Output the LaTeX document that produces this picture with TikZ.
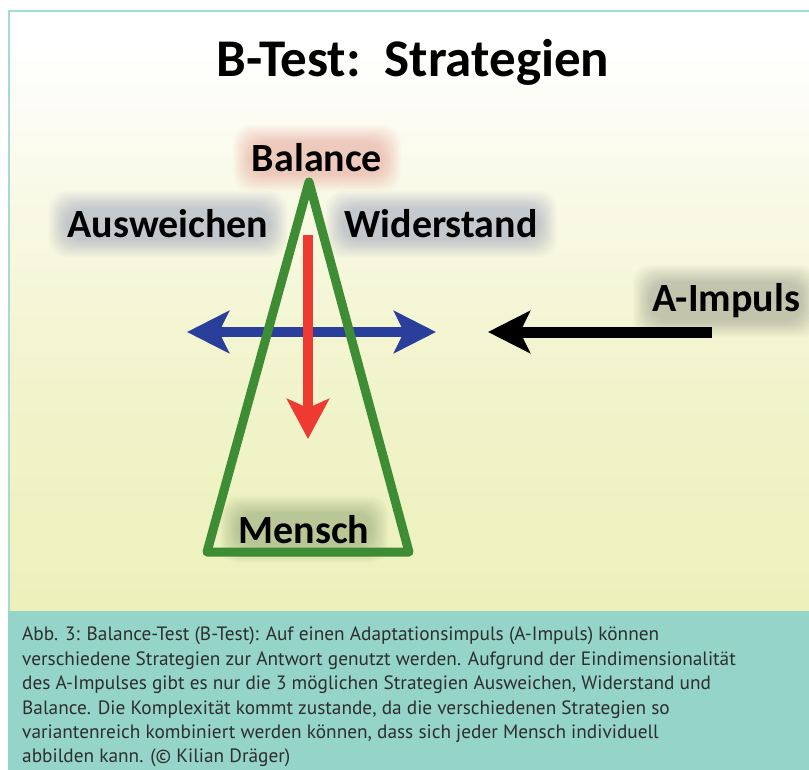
\documentclass[tikz,border=0pt]{standalone}
\usepackage{fontspec}
\setmainfont{Carlito}
\newfontfamily\captionfont{PT Sans}
\usetikzlibrary{arrows.meta, calc}

\definecolor{bordercol}{HTML}{A6DBD2}
\definecolor{capfill}{HTML}{95D4C8}
\definecolor{bgbottom}{HTML}{ECF1BB}
\definecolor{bgmid}{HTML}{F1F4CC}
\definecolor{bglight}{HTML}{FAFAEB}
\definecolor{trigreen}{HTML}{3E8C34}
\definecolor{arrred}{HTML}{EE3A30}
\definecolor{arrblue}{HTML}{2A3E9C}
\definecolor{captext}{HTML}{2E2E2E}

\pgfdeclareverticalshading{slideshade}{100bp}{color(0bp)=(bgbottom); color(25bp)=(bgbottom); color(45bp)=(bgmid); color(62bp)=(bglight); color(72bp)=(white); color(100bp)=(white)}

\pgfdeclarelayer{slidebg}
\pgfdeclarelayer{glowlayer}
\pgfsetlayers{slidebg,glowlayer,main}

% soft halo behind a label
\newcommand{\textglow}[2]{%
  \begin{pgfonlayer}{glowlayer}
    \foreach \g in {0,...,12}
      \fill[#2, opacity=0.02, rounded corners=18pt]
        ($(#1.south west)+(-\g*1.4,\g*1.4)$) rectangle ($(#1.north east)+(\g*1.4,-\g*1.4)$);
  \end{pgfonlayer}}

\begin{document}
\begin{tikzpicture}[
    x=1pt, y=-1pt,
    headline/.style={font=\fontsize{53}{53}\selectfont\bfseries, anchor=base, inner sep=0pt},
    strat/.style={font=\fontsize{40}{40}\selectfont\bfseries, anchor=base, inner sep=2pt},
    tri/.style={draw=trigreen, line width=9pt, line join=round},
    redarrow/.style={draw=arrred, line width=10pt, -{Stealth[length=40pt, width=42pt, inset=9pt]}},
    bluearrow/.style={draw=arrblue, line width=10pt, {Stealth[length=42pt, width=42pt, inset=10pt]}-{Stealth[length=42pt, width=42pt, inset=10pt]}},
    blackarrow/.style={draw=black, line width=11pt, -{Stealth[length=42pt, width=42pt, inset=10pt]}},
    capt/.style={font=\captionfont\fontsize{19.3}{24.4}\selectfont, text=captext, align=left, anchor=north west, inner sep=0pt}
]
\useasboundingbox (0,0) rectangle (809,770);

% background and caption panel
\begin{pgfonlayer}{slidebg}
  \fill[white] (0,0) rectangle (809,770);
  \shade[shading=slideshade] (9,11) rectangle (809,611);
  \fill[capfill] (8,611) rectangle (809,770);
  \draw[bordercol, line width=2pt] (9,611) -- (9,11) -- (809,11);
\end{pgfonlayer}

% title
\node[headline] (title) at (413,77) {B-Test:~~Strategien};

% strategy labels
\node[strat] (balance) at (317,172) {Balance};
\node[strat] (ausweichen) at (168,238) {Ausweichen};
\node[strat] (widerstand) at (441,238) {Widerstand};
\node[strat] (aimpuls) at (726,312) {A-Impuls};
\node[strat] (mensch) at (304,543) {Mensch};

\textglow{balance}{arrred}
\textglow{ausweichen}{arrblue}
\textglow{widerstand}{arrblue}
\textglow{aimpuls}{black!80}
\textglow{mensch}{trigreen!50!black}

% arrow and triangle end points
\coordinate (bleft) at (187,332);
\coordinate (bright) at (436,332);
\coordinate (apex) at (309,182);
\coordinate (baseL) at (207,552);
\coordinate (baseR) at (409,552);
\coordinate (redtop) at (308,235);
\coordinate (redtip) at (308,439);
\coordinate (impulstail) at (712,332);
\coordinate (impulstip) at (488,332);

\draw[bluearrow] (bleft) -- (bright);
\draw[tri] (apex) -- (baseR) -- (baseL) -- cycle;
\draw[redarrow] (redtop) -- (redtip);
\draw[blackarrow] (impulstail) -- (impulstip);

% caption
\node[capt] (caption) at (22,627) {Abb. 3: Balance-Test (B-Test): Auf einen Adaptationsimpuls (A-Impuls) können\\
verschiedene Strategien zur Antwort genutzt werden. Aufgrund der Eindimensionalität\\
des A-Impulses gibt es nur die 3 möglichen Strategien Ausweichen, Widerstand und\\
Balance. Die Komplexität kommt zustande, da die verschiedenen Strategien so\\
variantenreich kombiniert werden können, dass sich jeder Mensch individuell\\
abbilden kann. (© Kilian Dräger)};

\end{tikzpicture}
\end{document}
